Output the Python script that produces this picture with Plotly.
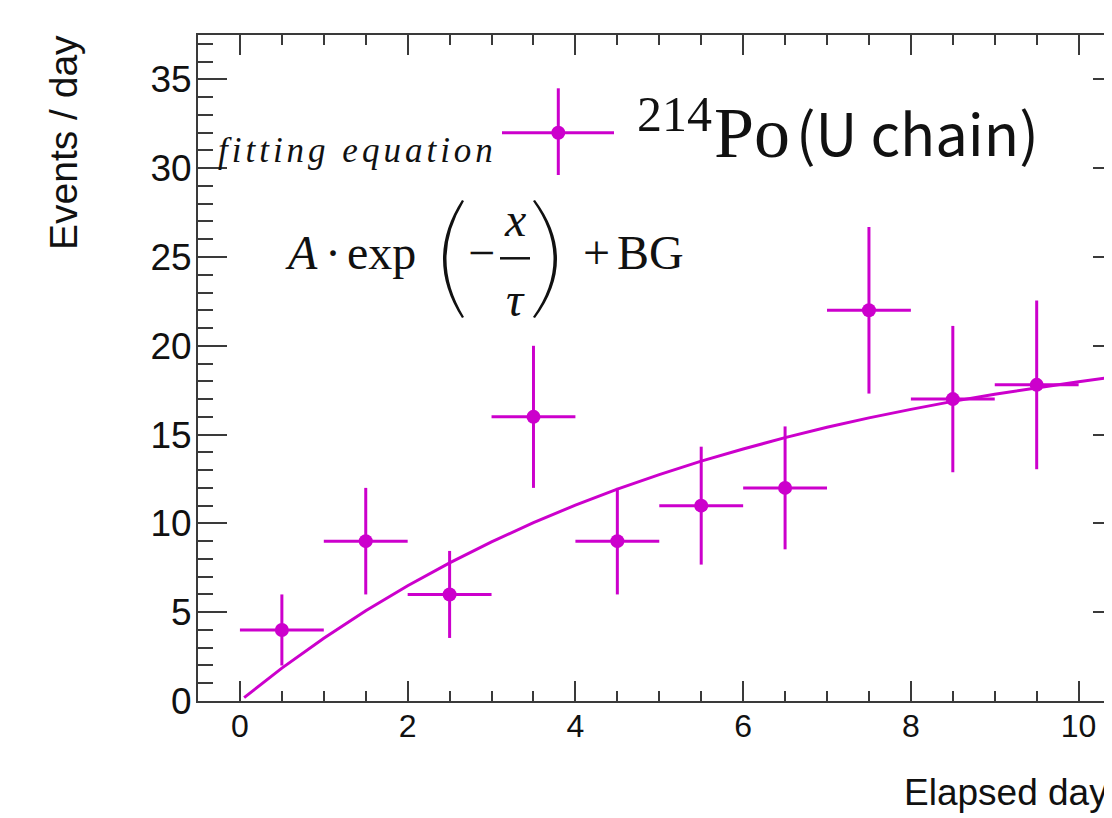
import plotly.graph_objects as go

# ---------------- data ----------------
bin_centers = [0.5, 1.5, 2.5, 3.5, 4.5, 5.5, 6.5, 7.5, 8.5, 9.5]
bin_half_width = [0.5, 0.5, 0.5, 0.5, 0.5, 0.5, 0.5, 0.5, 0.5, 0.5]
events_per_day = [4, 9, 6, 16, 9, 11, 12, 22, 17, 17.8]
events_err = [2.0, 3.0, 2.45, 4.0, 3.0, 3.32, 3.46, 4.69, 4.12, 4.75]

fit_x = [0.05, 0.5, 1.0, 1.5, 2.0, 2.5, 3.0, 3.5, 4.0, 4.5, 5.0, 5.5,
         6.0, 6.5, 7.0, 7.5, 8.0, 8.5, 9.0, 9.5, 10.0, 10.5]
fit_y = [0.19, 1.85, 3.53, 5.08, 6.49, 7.78, 8.96, 10.04, 11.03, 11.93, 12.75, 13.51,
         14.19, 14.83, 15.41, 15.94, 16.42, 16.87, 17.27, 17.64, 17.98, 18.29]

x_ticks = [0, 2, 4, 6, 8, 10]
y_ticks = [0, 5, 10, 15, 20, 25, 30, 35]

MAG = "#CC00CC"
AX = "#3a3a3a"
INK = "#111111"

# page offset of the figure (browser body margin) and plot-area geometry in page pixels
OFF = 8
L, T, W, H = 198, 35, 914, 666
FIG_W, FIG_H = 1112 - OFF, 818 - OFF


def X(p):
    return (p - L) / W


def Y(p):
    return (T + H - p) / H


fig = go.Figure()

fig.add_trace(go.Scatter(
    x=fit_x, y=fit_y, mode="lines",
    line=dict(color=MAG, width=3), showlegend=False, hoverinfo="skip"))

fig.add_trace(go.Scatter(
    x=bin_centers, y=events_per_day, mode="markers",
    marker=dict(color=MAG, size=14),
    error_x=dict(type="data", array=bin_half_width, color=MAG, thickness=3, width=0),
    error_y=dict(type="data", array=events_err, color=MAG, thickness=3, width=0),
    showlegend=False))

# invisible companion so the right-hand tick axis is drawn
fig.add_trace(go.Scatter(
    x=fit_x, y=fit_y, yaxis="y2", mode="lines", line=dict(width=0),
    opacity=0, showlegend=False, hoverinfo="skip"))

fig.update_layout(
    width=FIG_W, height=FIG_H,
    margin=dict(l=L - OFF, r=FIG_W - (L - OFF) - W, t=T - OFF, b=FIG_H - (T - OFF) - H),
    paper_bgcolor="white", plot_bgcolor="white",
    font=dict(family="Liberation Sans", color=INK),
    xaxis=dict(
        range=[-0.5, 10.398], tickvals=x_ticks, ticks="inside", ticklen=20,
        tickwidth=2, tickcolor=AX, showline=True, linecolor=AX, linewidth=2,
        mirror="ticks", showgrid=False, zeroline=False, ticklabelstandoff=-4,
        tickfont=dict(size=32, family="Liberation Sans", color=INK),
        minor=dict(dtick=0.5, ticks="inside", ticklen=10, tickwidth=2, tickcolor=AX),
    ),
    yaxis=dict(
        range=[0, 37.5], tickvals=y_ticks, ticks="inside", ticklen=29,
        tickwidth=2, tickcolor=AX, showline=True, linecolor=AX, linewidth=2,
        showgrid=False, zeroline=False, ticklabelstandoff=-3,
        tickfont=dict(size=37, family="Liberation Sans", color=INK),
        minor=dict(dtick=1, ticks="inside", ticklen=15, tickwidth=2, tickcolor=AX),
    ),
    yaxis2=dict(
        range=[0, 37.5], overlaying="y", side="right", tickvals=y_ticks,
        ticks="inside", ticklen=19, tickwidth=2, tickcolor=AX,
        showticklabels=False, showline=False, showgrid=False, zeroline=False,
        minor=dict(dtick=1, ticks="inside", ticklen=7, tickwidth=2, tickcolor=AX),
    ),
)

ann = []
# axis titles
ann.append(dict(text="Events / day", textangle=-90, xref="paper", yref="paper",
                x=X(63), y=Y(143), xanchor="center", yanchor="middle",
                showarrow=False, font=dict(size=39, family="Liberation Sans", color=INK)))
ann.append(dict(text="Elapsed days", xref="paper", yref="paper",
                x=X(902), y=Y(814.5), xanchor="left", yanchor="bottom",
                showarrow=False, font=dict(size=37, family="Liberation Sans", color=INK)))

# "fitting equation"
ann.append(dict(text='<i><span style="letter-spacing:4px">fitting equation</span></i>',
                xref="paper", yref="paper", x=X(217), y=Y(163.5 + 0.216 * 35),
                xanchor="left", yanchor="bottom", showarrow=False, borderpad=0,
                font=dict(size=35, family="Liberation Serif", color=INK)))


def serif_text(txt, xc, baseline, anchor="center", size=48):
    return dict(text=txt, xref="paper", yref="paper", x=X(xc),
                y=Y(baseline + 0.216 * size), xanchor=anchor, yanchor="bottom",
                showarrow=False, borderpad=0,
                font=dict(size=size, family="Liberation Serif", color=INK))


ann.append(serif_text("<i>A</i>", 284, 270, "left"))
ann.append(serif_text("·", 333, 270))
ann.append(serif_text("exp", 346, 270, "left"))
ann.append(serif_text("\u2212", 481, 270))
ann.append(serif_text("<i>x</i>", 515, 237))
ann.append(serif_text("<i>τ</i>", 515, 317))
ann.append(serif_text("+", 596, 270))
ann.append(serif_text("BG", 616, 270, "left"))

# legend text
ann.append(serif_text("214", 636, 131.7, "left", 50))
ann.append(serif_text("Po", 713, 158.3, "left", 72))
ann.append(dict(text="(U chain)", xref="paper", yref="paper",
                x=X(795), y=Y(157 + 0.29 * 58), xanchor="left", yanchor="bottom",
                showarrow=False, borderpad=0,
                font=dict(size=58, family="Noto Sans CJK KR", color=INK)))

fig.update_layout(annotations=ann)


def path(cmds):
    out = []
    for c in cmds:
        out.append(c if isinstance(c, str) else f"{X(c[0]):.5f},{Y(c[1]):.5f}")
    return " ".join(out)


shapes = []
# big parentheses
shapes.append(dict(type="path", xref="paper", yref="paper",
                   path=path(["M", (462, 200), "Q", (424, 259), (462, 318), "L", (464, 317),
                              "Q", (429, 259), (464, 201), "Z"]),
                   fillcolor=INK, line=dict(width=0)))
shapes.append(dict(type="path", xref="paper", yref="paper",
                   path=path(["M", (535, 200), "Q", (579, 259), (535, 318), "L", (533, 317),
                              "Q", (574, 259), (533, 201), "Z"]),
                   fillcolor=INK, line=dict(width=0)))
# fraction bar
shapes.append(dict(type="line", xref="paper", yref="paper",
                   x0=X(500), x1=X(530), y0=Y(258.3), y1=Y(258.3),
                   line=dict(color=INK, width=2.5)))
# legend key
shapes.append(dict(type="line", xref="paper", yref="paper",
                   x0=X(502), x1=X(614), y0=Y(132.7), y1=Y(132.7),
                   line=dict(color=MAG, width=3)))
shapes.append(dict(type="line", xref="paper", yref="paper",
                   x0=X(558.3), x1=X(558.3), y0=Y(88.3), y1=Y(175),
                   line=dict(color=MAG, width=3)))
shapes.append(dict(type="circle", xref="paper", yref="paper",
                   x0=X(558.3 - 7), x1=X(558.3 + 7), y0=Y(132.7 - 7), y1=Y(132.7 + 7),
                   fillcolor=MAG, line=dict(width=0)))
fig.update_layout(shapes=shapes)

fig.write_html("out.html")
